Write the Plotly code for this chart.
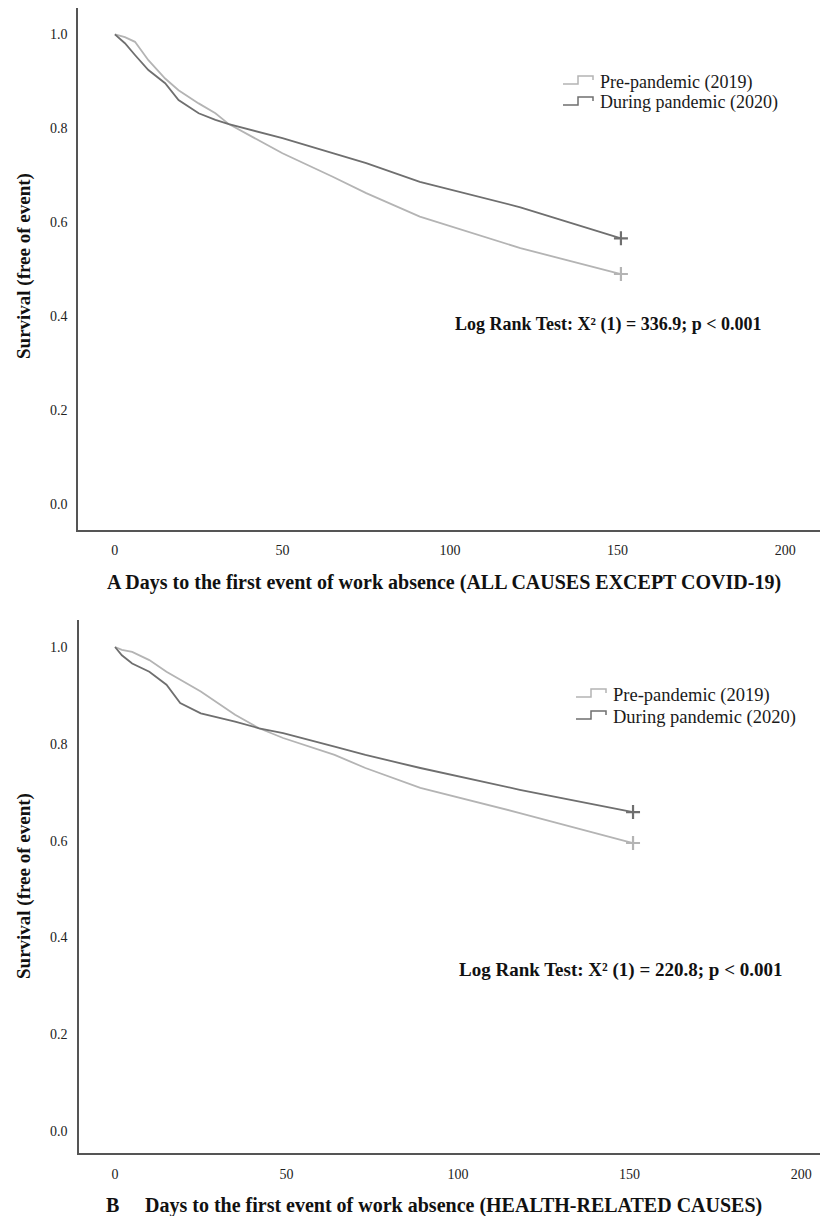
import plotly.graph_objects as go

# ---------------- data ----------------
# Panel A: all causes except COVID-19
a_days_2019 = [0, 3, 6, 10, 15, 19, 25, 30, 34, 40, 50, 65, 75, 91, 121, 151]
a_surv_2019 = [1.0, 0.994, 0.984, 0.945, 0.906, 0.881, 0.853, 0.832, 0.809, 0.786,
               0.747, 0.697, 0.662, 0.612, 0.545, 0.490]
a_days_2020 = [0, 3, 6, 10, 15, 19, 25, 30, 34, 40, 50, 65, 75, 91, 121, 151]
a_surv_2020 = [1.0, 0.981, 0.956, 0.924, 0.896, 0.860, 0.832, 0.818, 0.809, 0.798,
               0.779, 0.747, 0.726, 0.686, 0.632, 0.566]

# Panel B: health-related causes
b_days_2019 = [0, 2, 5, 10, 15, 19, 25, 35, 42, 49, 64, 73, 89, 118, 151]
b_surv_2019 = [1.0, 0.994, 0.990, 0.973, 0.949, 0.932, 0.908, 0.860, 0.832, 0.812,
               0.777, 0.750, 0.709, 0.657, 0.595]
b_days_2020 = [0, 2, 5, 10, 15, 19, 25, 35, 42, 49, 64, 73, 89, 118, 151]
b_surv_2020 = [1.0, 0.983, 0.966, 0.949, 0.922, 0.884, 0.863, 0.846, 0.832, 0.822,
               0.794, 0.777, 0.750, 0.705, 0.659]

series_names = ["Pre-pandemic (2019)", "During pandemic (2020)"]
x_ticks = [0, 50, 100, 150, 200]
y_ticks = [0.0, 0.2, 0.4, 0.6, 0.8, 1.0]
x_title_a = "A Days to the first event of work absence (ALL CAUSES EXCEPT COVID-19)"
x_title_b_letter = "B"
x_title_b = "Days to the first event of work absence (HEALTH-RELATED CAUSES)"
y_title = "Survival (free of event)"
logrank_a = "Log Rank Test: X² (1) = 336.9; p < 0.001"
logrank_b = "Log Rank Test: X² (1) = 220.8; p < 0.001"

# ---------------- style ----------------
W, H = 823, 1216
FONT = "'Liberation Serif', 'Times New Roman', 'DejaVu Serif', serif"
LIGHT = "#b4b4b4"
DARK = "#6f6f6f"
COLORS = [LIGHT, DARK]
AXIS = "#555555"

def px_x(p):
    return p / W

def px_y(p):
    return 1 - p / H

fig = go.Figure()

def add_panel(days19, s19, days20, s20, xa, ya):
    for days, surv, name, col in [(days19, s19, series_names[0], LIGHT),
                                  (days20, s20, series_names[1], DARK)]:
        fig.add_trace(go.Scatter(
            x=days, y=surv, mode="lines", name=name,
            line=dict(color=col, width=1.8),
            xaxis=xa, yaxis=ya, showlegend=False, hoverinfo="skip"))
        fig.add_trace(go.Scatter(
            x=[days[-1]], y=[surv[-1]], mode="markers", name=name + " censored",
            marker=dict(symbol="cross-thin", size=10,
                        line=dict(color=col, width=2.2)),
            xaxis=xa, yaxis=ya, showlegend=False, hoverinfo="skip"))

add_panel(a_days_2019, a_surv_2019, a_days_2020, a_surv_2020, "x", "y")
add_panel(b_days_2019, b_surv_2019, b_days_2020, b_surv_2020, "x2", "y2")

axis_common = dict(showline=True, linecolor=AXIS, linewidth=1.5, showgrid=False,
                   zeroline=False, ticks="", tickfont=dict(family=FONT, size=14, color="#222"))

fig.update_layout(
    width=W, height=H,
    margin=dict(l=0, r=0, t=0, b=0),
    paper_bgcolor="white", plot_bgcolor="white",
    font=dict(family=FONT, color="#222"),
    showlegend=False,
    xaxis=dict(domain=[px_x(78), px_x(820)], range=[-11, 210.4], anchor="y",
               tickvals=x_ticks, ticklabelstandoff=6, **axis_common),
    yaxis=dict(domain=[px_y(530), px_y(8)], range=[-0.0547, 1.056], anchor="x",
               tickvals=y_ticks, tickformat=".1f", ticklabelstandoff=6, **axis_common),
    xaxis2=dict(domain=[px_x(79), px_x(820)], range=[-10.5, 205.5], anchor="y2",
                tickvals=x_ticks, ticklabelstandoff=7, **axis_common),
    yaxis2=dict(domain=[px_y(1153), px_y(620)], range=[-0.0455, 1.0558], anchor="x2",
                tickvals=y_ticks, tickformat=".1f", ticklabelstandoff=7, **axis_common),
)

ann = []
shapes = []

# manual legends (text + step-shaped key), one per panel
def add_legend(x_icon, y_rows, size):
    for name, col, yc in zip(series_names, COLORS, y_rows):
        x0, x1, x2 = x_icon, x_icon + 15, x_icon + 30
        yb, yt, ye = yc + 2, yc - 6, yc - 2
        path = (f"M {px_x(x0)},{px_y(yb)} L {px_x(x1)},{px_y(yb)} L {px_x(x1)},{px_y(yt)} "
                f"L {px_x(x2)},{px_y(yt)} L {px_x(x2)},{px_y(ye)}")
        shapes.append(dict(type="path", path=path, xref="paper", yref="paper",
                           line=dict(color=col, width=1.5)))
        ann.append(dict(text=name, x=px_x(x2 + 5), y=px_y(yc), xref="paper", yref="paper",
                        showarrow=False, xanchor="left", yanchor="middle",
                        font=dict(family=FONT, size=size, color="#1a1a1a")))

add_legend(563, [82, 103], 18)
add_legend(576, [695, 717], 18.5)

# y-axis titles
for yc in (266, 886):
    ann.append(dict(text=f"<b>{y_title}</b>", x=px_x(24), y=px_y(yc), xref="paper", yref="paper",
                    textangle=-90, showarrow=False, xanchor="center", yanchor="middle",
                    font=dict(family=FONT, size=19, color="#111")))
# x-axis titles
ann.append(dict(text=f"<b>{x_title_a}</b>", x=px_x(105), y=px_y(582), xref="paper", yref="paper",
                showarrow=False, xanchor="left", yanchor="middle",
                font=dict(family=FONT, size=20, color="#111")))
ann.append(dict(text=f"<b>{x_title_b_letter}</b>", x=px_x(104), y=px_y(1205), xref="paper", yref="paper",
                showarrow=False, xanchor="left", yanchor="middle",
                font=dict(family=FONT, size=20, color="#111")))
ann.append(dict(text=f"<b>{x_title_b}</b>", x=px_x(143), y=px_y(1205), xref="paper", yref="paper",
                showarrow=False, xanchor="left", yanchor="middle",
                font=dict(family=FONT, size=20, color="#111")))
# log-rank annotations
ann.append(dict(text=f"<b>{logrank_a}</b>", x=px_x(608), y=px_y(324), xref="paper", yref="paper",
                showarrow=False, xanchor="center", yanchor="middle",
                font=dict(family=FONT, size=18, color="#111")))
ann.append(dict(text=f"<b>{logrank_b}</b>", x=px_x(620), y=px_y(970), xref="paper", yref="paper",
                showarrow=False, xanchor="center", yanchor="middle",
                font=dict(family=FONT, size=19, color="#111")))
fig.update_layout(annotations=ann, shapes=shapes)

fig.write_html("out.html")
